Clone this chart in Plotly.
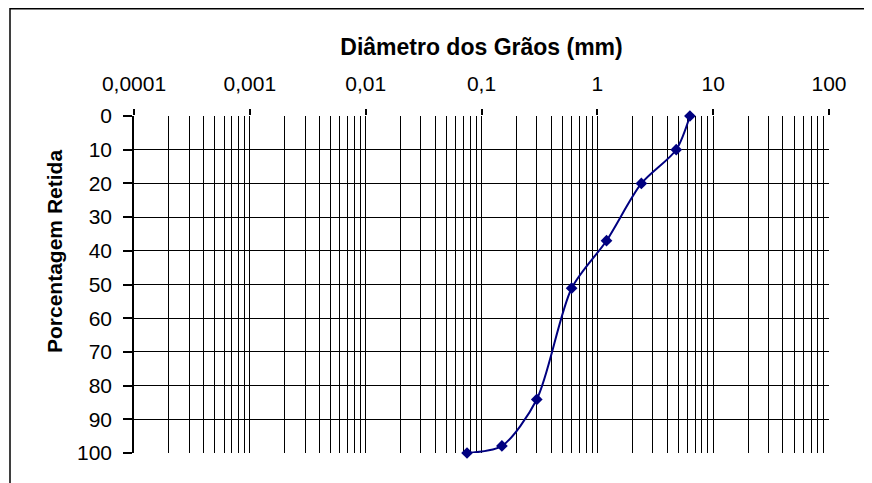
import plotly.graph_objects as go

diametro_mm = [6.3, 4.8, 2.4, 1.2, 0.6, 0.3, 0.15, 0.075]
retida_pct = [0, 10, 20, 37, 51.1, 84.1, 97.9, 100]

decade_vals = [0.0001, 0.001, 0.01, 0.1, 1, 10, 100]
decade_text = ["0,0001", "0,001", "0,01", "0,1", "1", "10", "100"]
y_ticks = list(range(0, 101, 10))

minor_vals = [m * d for d in decade_vals[:-1] for m in range(2, 10)]

# the page body has an 8 px margin, so the figure is 8 px smaller
W, H = 864, 475
L, R, T, B = 126, 43, 108, 30
pw, ph = W - L - R, H - T - B

def px(x):
    return (x - L) / pw

def py(y):
    return (H - B - y) / ph

font_family = "Arial, Liberation Sans, sans-serif"

fig = go.Figure()
fig.add_trace(go.Scatter(
    x=diametro_mm, y=retida_pct, mode="lines+markers",
    line=dict(color="#000080", width=2, shape="spline", smoothing=0.8),
    marker=dict(symbol="diamond", size=9, color="#000080"),
    showlegend=False, cliponaxis=False,
))

fig.update_layout(
    width=W, height=H,
    margin=dict(l=L, r=R, t=T, b=B),
    paper_bgcolor="white", plot_bgcolor="white",
    font=dict(family=font_family, size=21, color="black"),
    xaxis=dict(
        type="log", range=[-4, 2], side="top",
        tickvals=decade_vals, ticktext=decade_text,
        ticks="outside", ticklen=6, tickcolor="black", tickwidth=1.5,
        ticklabelstandoff=10,
        showgrid=True, gridcolor="black", gridwidth=1.4,
        minor=dict(tickvals=minor_vals, showgrid=True, gridcolor="black", gridwidth=1.4, ticks=""),
        showline=False, zeroline=False, automargin=False,
        tickfont=dict(size=21),
        title=dict(text="<b>Diâmetro dos Grãos (mm)</b>", font=dict(size=23), standoff=9),
    ),
    yaxis=dict(
        range=[100, 0], tickvals=y_ticks,
        ticks="outside", ticklen=9, tickcolor="black", tickwidth=1.5,
        ticklabelstandoff=7,
        showgrid=True, gridcolor="black", gridwidth=1.4,
        showline=True, linecolor="black", linewidth=1.5,
        zeroline=False, automargin=False, tickfont=dict(size=21),
    ),
)

fig.add_annotation(text="<b>Porcentagem Retida</b>", textangle=-90,
                   xref="paper", yref="paper", x=px(47), y=py(244),
                   xanchor="center", yanchor="middle", showarrow=False,
                   font=dict(size=21, family=font_family, color="black"))

fig.add_shape(type="rect", xref="paper", yref="paper",
              x0=px(2), x1=px(900), y0=py(0.8), y1=py(520),
              line=dict(color="black", width=1.5), fillcolor="rgba(0,0,0,0)", layer="below")

fig.write_html("out.html")
